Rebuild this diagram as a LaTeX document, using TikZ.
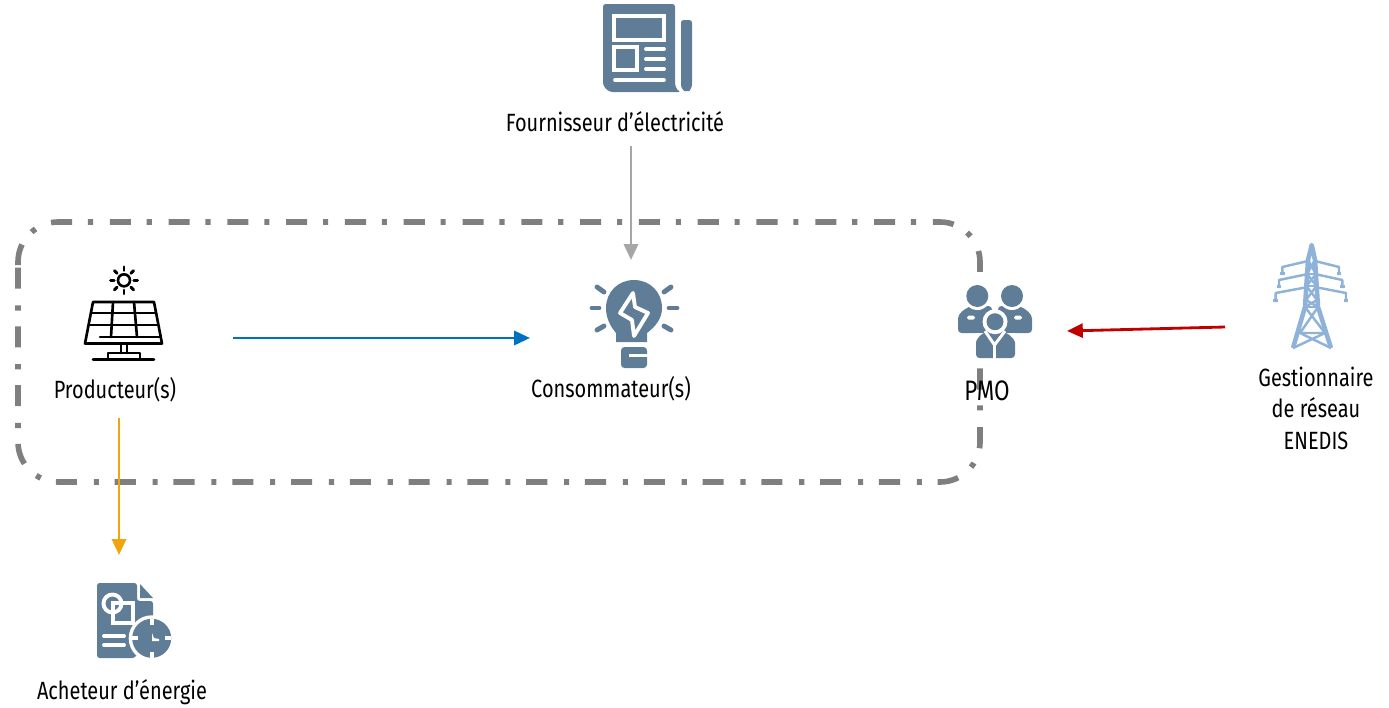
\documentclass[tikz,border=0pt]{standalone}
\usepackage{fontspec}
\setmainfont[FakeStretch=0.8]{Fira Sans}
\usetikzlibrary{arrows.meta}
\definecolor{iconblue}{RGB}{95,125,151}
\definecolor{towerblue}{RGB}{143,178,216}
\definecolor{framegray}{RGB}{127,127,127}
\definecolor{feedgray}{RGB}{166,166,166}
\definecolor{feedblue}{RGB}{0,112,192}
\definecolor{feedred}{RGB}{192,0,0}
\definecolor{feedorange}{RGB}{240,165,15}
\tikzset{
  actor/.style={font=\fontsize{14.2}{16}\selectfont, inner sep=0pt, align=center},
  flow/.style={line width=1.6pt, -{Triangle[length=9pt,width=8pt]}},
  iconfill/.style={fill=iconblue, draw=none},
  iconcut/.style={draw=white, line width=2.2pt, line cap=round},
  iconray/.style={draw=iconblue, line width=2.8pt, line cap=round},
  panel/.style={draw=black, line width=1.5pt, line cap=round, line join=round},
  pylon/.style={draw=towerblue, line width=1.4pt, line join=round},
  pylonbar/.style={draw=towerblue, line width=2.6pt, line join=round}
}
\begin{document}
\begin{tikzpicture}[x=0.02cm,y=-0.02cm]
  \useasboundingbox (0,0) rectangle (1389,707);

  % perimeter
  \draw[framegray, line width=3.2pt,
    dash pattern=on 12pt off 9pt on 2.9pt off 9.56pt]
    (18,265) -- (18,262) .. controls (18,240) and (36,222) .. (58,222)
    -- (940,222) .. controls (962,222) and (980,240) .. (980,262)
    -- (980,442) .. controls (980,464) and (962,482) .. (940,482)
    -- (58,482) .. controls (36,482) and (18,464) .. (18,442) -- cycle;

  % newspaper
  \fill[iconblue, rounded corners=1.5pt] (603,4) -- (675,4) -- (675,80)
    .. controls (675,86) and (677,90) .. (681,92) -- (615,92)
    .. controls (608,92) and (603,87) .. (603,80) -- cycle;
  \fill[iconblue, rounded corners=1.5pt] (681,20) -- (692,20) -- (692,82)
    .. controls (692,88) and (689,91) .. (687,91)
    .. controls (684,91) and (681,88) .. (681,82) -- cycle;
  \draw[iconcut] (614,16) rectangle (664,40);
  \draw[iconcut] (614,47) rectangle (637,70);
  \foreach \y in {49,59,69} \draw[iconcut] (646,\y) -- (664,\y);
  \draw[iconcut] (615,80) -- (664,80);

  % solar panel
  \draw[panel] (124,280.3) circle [radius=6];
  \foreach \a in {0,45,...,315}
    \draw[panel, line width=1.7pt] ([shift={(\a:9.8)}]124,280.3) -- ([shift={(\a:13.5)}]124,280.3);
  \draw[panel] (93,302) -- (154,302) -- (162,343.5) -- (85,343.5) -- cycle;
  \draw[panel] (91,313) -- (156,313);
  \draw[panel] (89,325) -- (158,325);
  \draw[panel] (100,337) -- (160,337);
  \draw[panel] (113,302) -- (111,337);
  \draw[panel] (134,302) -- (137,337);
  \draw[panel] (121,344) -- (121,353);
  \draw[panel] (127,344) -- (127,353);
  \draw[panel] (108,359) -- (108,353) -- (140,353) -- (140,359);
  \draw[panel] (93,359.5) -- (154,359.5);

  % bulb
  \fill[iconblue] (616,342) -- (647,342) -- (647,333)
    .. controls (655,327) and (662,319) .. (662,308)
    .. controls (662,292) and (650,280) .. (634,280)
    .. controls (618,280) and (606,292) .. (606,308)
    .. controls (606,319) and (611,327) .. (616,333) -- cycle;
  \fill[iconblue, rounded corners=2pt] (621,347) -- (647,347) -- (647,368) -- (621,368) -- cycle;
  \draw[draw=white, line width=2.2pt] (629,355.5) -- (648,355.5);
  \draw[iconray] (597,287) -- (604,292);
  \draw[iconray] (592,308) -- (599,308);
  \draw[iconray] (597,330) -- (604,326);
  \draw[iconray] (664,292) -- (671,287);
  \draw[iconray] (669,308) -- (677,308);
  \draw[iconray] (664,326) -- (671,330);
  \draw[iconcut, line join=round] (633,293) -- (620,313) -- (632,320) -- (634,336) -- (648,313) -- (635,307) -- cycle;

  % PMO group
  \fill[iconblue, rounded corners=2pt] (958,333) -- (958,322) .. controls (958,314) and (964,309) .. (972,306)
    -- (992,306) -- (992,333) -- cycle;
  \fill[iconblue, rounded corners=2pt] (1032,333) -- (1032,322) .. controls (1032,314) and (1026,309) .. (1018,306)
    -- (998,306) -- (998,333) -- cycle;
  \fill[white] (977.3,296) circle [radius=14];
  \fill[white] (1012,296) circle [radius=14];
  \fill[iconblue] (977.3,296) circle [radius=11];
  \fill[iconblue] (1012,296) circle [radius=11];
  \fill[white, rounded corners=1pt] (967,315.7) rectangle (975,319.7);
  \fill[white, rounded corners=1pt] (1014,315.7) rectangle (1022,319.7);
  \fill[white] (976,333) rectangle (1015,335);
  \fill[iconblue, rounded corners=2pt] (976,358) -- (976,346) .. controls (976,340) and (980,335) .. (986,332)
    -- (1004,332) .. controls (1010,335) and (1015,340) .. (1015,346) -- (1015,358) -- cycle;
  \fill[white] (995,321.7) circle [radius=12.5];
  \fill[iconblue] (995,321.7) circle [radius=8.5];
  \draw[draw=white, line width=1.7pt] (985,331) -- (994.5,345) -- (1005,331);
  \draw[draw=white, line width=1.7pt] (994.5,345) -- (994.5,359);
  \fill[iconblue] (989.5,335) -- (1000,335) -- (994.5,340) -- cycle;

  % pylon
  \draw[pylonbar] (1293,348) -- (1305,307) -- (1308,260) -- (1311.7,245) -- (1315,260) -- (1318,307) -- (1331,348);
  \draw[pylon] (1308,260) -- (1316,274) -- (1306.5,286) -- (1317,300) -- (1305,307);
  \draw[pylon] (1315,260) -- (1307,274) -- (1316.5,286) -- (1306,300) -- (1318,307);
  \draw[pylon] (1307,274) -- (1316,274);
  \draw[pylon] (1306.5,286) -- (1317,286);
  \draw[pylon] (1305,307) -- (1318,307);
  \draw[pylon] (1305,307) -- (1325,333) -- (1300,333) -- (1318,307);
  \draw[pylon] (1300,333) -- (1331,348);
  \draw[pylon] (1325,333) -- (1293,348);
  \foreach \ya/\yb/\xl/\xr/\yd in {261/267/1282.3/1339/275, 274/280/1279/1342.3/288, 287/293/1275.7/1346/302} {
    \draw[pylon] (1308,\ya) -- (\xl,\yb) -- (\xl,\yd);
    \draw[pylon] (1315,\ya) -- (\xr,\yb) -- (\xr,\yd);
    \draw[pylonbar] (\xl,\yd-3) -- (\xl,\yd);
    \draw[pylonbar] (\xr,\yd-3) -- (\xr,\yd);
  }

  % contract
  \fill[iconblue, rounded corners=1.5pt] (97,583) -- (137,583) -- (137,601) -- (153,601) -- (153,625) -- (135,658) -- (97,658) -- cycle;
  \fill[iconblue] (140,584) -- (153,598) -- (140,598) -- cycle;
  \fill[white] (151.7,638.3) circle [radius=23];
  \fill[iconblue] (151.7,638.3) circle [radius=19.5];
  \draw[iconcut, line cap=butt] (113,603) rectangle (133,623);
  \draw[iconcut] (112.5,603.5) circle [radius=9];
  \draw[iconcut] (104,636) -- (124,636);
  \draw[iconcut] (104,645) -- (124,645);
  \draw[iconcut, line cap=butt] (151.7,619) -- (151.7,625);
  \draw[iconcut, line cap=butt] (151.7,652) -- (151.7,658);
  \draw[iconcut, line cap=butt] (132,638.3) -- (138,638.3);
  \draw[iconcut, line cap=butt] (165,638.3) -- (171,638.3);
  \fill[white] (152,633) -- (154,638) -- (159,639) -- (159,641) -- (152,641) -- cycle;

  % labels
  \draw (615,122) node[actor] (fournisseur) {Fournisseur d’électricité};
  \draw (115,390) node[actor] (producteur) {Producteur(s)};
  \draw (611,389) node[actor] (consommateur) {Consommateur(s)};
  \draw (987,391) node[actor, font=\fontsize{16}{18}\selectfont] (pmo) {PMO};
  \draw (1316,408) node[actor, text depth=0pt] (gestionnaire) {Gestionnaire\\[2pt]de réseau\\[2pt]ENEDIS};
  \draw (122,692) node[actor] (acheteur) {Acheteur d’énergie};

  % flows
  \coordinate (fournOut) at (631,146);
  \coordinate (consIn) at (631,260);
  \coordinate (prodOut) at (233,338);
  \coordinate (consLeft) at (530,338);
  \coordinate (gestOut) at (1225,327);
  \coordinate (pmoIn) at (1067,331);
  \coordinate (prodDown) at (119,418);
  \coordinate (achIn) at (119,555);
  \draw[flow, feedgray] (fournOut) -- (consIn);
  \draw[flow, feedblue] (prodOut) -- (consLeft);
  \draw[flow, feedred] (gestOut) -- (pmoIn);
  \draw[flow, feedorange] (prodDown) -- (achIn);
\end{tikzpicture}
\end{document}
